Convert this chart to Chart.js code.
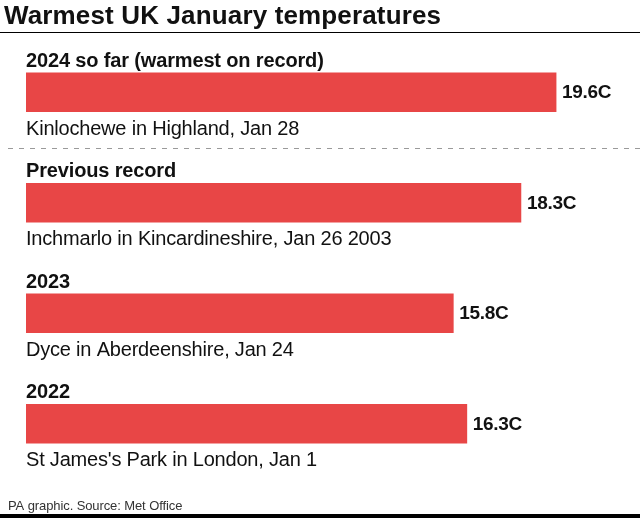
<!DOCTYPE html>
<html>
<head>
<meta charset="utf-8">
<title>Warmest UK January temperatures</title>
<script src="https://cdn.jsdelivr.net/npm/chart.js@4"></script>
<style>
  html, body { margin: 0; padding: 0; background: #ffffff; }
  #wrap { position: relative; width: 640px; height: 518px; }
</style>
</head>
<body>
<div id="wrap"><canvas id="chart"></canvas></div>
<script>
// Chart data
const groupLabels = ['2024 so far (warmest on record)', 'Previous record', '2023', '2022'];
const places = [
    'Kinlochewe in Highland, Jan 28',
    'Inchmarlo in Kincardineshire, Jan 26 2003',
    'Dyce in Aberdeenshire, Jan 24',
    "St James's Park in London, Jan 1"
];
const temperatures = [19.6, 18.3, 15.8, 16.3];

const titleText = 'Warmest UK January temperatures';
const footerText = 'PA graphic. Source: Met Office';

const FONT = '"Liberation Sans", Arial, sans-serif';
const BAR_RED = '#e84646';

// -----------------------------------------------------------------
// Custom drawing: title, group labels, place names, values, rules
// -----------------------------------------------------------------
const annotations = {
    id: 'annotations',
    afterDatasetsDraw(chart) {
        const ctx = chart.ctx;
        const bars = chart.getDatasetMeta(0).data;
        const w = chart.width;
        ctx.save();

        // title + rule under it
        ctx.fillStyle = '#111111';
        ctx.textAlign = 'left';
        ctx.textBaseline = 'alphabetic';
        ctx.font = 'bold 26px ' + FONT;
        ctx.letterSpacing = '0.15px';
        ctx.fillText(titleText, 4, 24);
        ctx.letterSpacing = '0px';
        ctx.fillStyle = '#000000';
        ctx.fillRect(0, 32, w, 1);

        bars.forEach((bar, i) => {
            const top = bar.y - bar.height / 2;
            const bottom = bar.y + bar.height / 2;

            ctx.fillStyle = '#111111';
            ctx.font = 'bold 20px ' + FONT;
            ctx.letterSpacing = '-0.15px';
            ctx.fillText(groupLabels[i], bar.base, top - 6);

            ctx.font = '20px ' + FONT;
            ctx.letterSpacing = '-0.2px';
            ctx.fillText(places[i], bar.base, bottom + 23);

            ctx.font = 'bold 19px ' + FONT;
            ctx.letterSpacing = '-0.3px';
            ctx.textBaseline = 'middle';
            ctx.fillText(temperatures[i].toFixed(1) + 'C', bar.x + 6, bar.y + 1);
            ctx.textBaseline = 'alphabetic';
        });

        // dashed separator between this year and the older records
        const b0 = bars[0], b1 = bars[1];
        const sepY = Math.round(((b0.y + b0.height / 2) + (b1.y - b1.height / 2)) / 2) + 0.5;
        ctx.strokeStyle = '#9a9a9a';
        ctx.lineWidth = 1;
        ctx.setLineDash([5, 6]);
        ctx.beginPath();
        ctx.moveTo(8, sepY);
        ctx.lineTo(w, sepY);
        ctx.stroke();
        ctx.setLineDash([]);

        // footer + bottom rule
        ctx.fillStyle = '#333333';
        ctx.font = '13px ' + FONT;
        ctx.letterSpacing = '-0.1px';
        ctx.fillText(footerText, 8, 510);
        ctx.letterSpacing = '0px';
        ctx.fillStyle = '#000000';
        ctx.fillRect(0, 514, w, 4);

        ctx.restore();
    }
};

const chart = new Chart(document.getElementById('chart'), {
    type: 'bar',
    data: {
        labels: groupLabels,
        datasets: [{
            data: temperatures,
            backgroundColor: BAR_RED,
            borderWidth: 0,
            barThickness: 39
        }]
    },
    options: {
        indexAxis: 'y',
        responsive: true,
        maintainAspectRatio: false,
        animation: false,
        layout: { padding: { left: 26, right: 19, top: 37, bottom: 39 } },
        scales: {
            x: { min: 0, max: 22, display: false },
            y: { display: false }
        },
        plugins: {
            legend: { display: false },
            tooltip: { enabled: false }
        }
    },
    plugins: [annotations]
});
</script>
</body>
</html>
